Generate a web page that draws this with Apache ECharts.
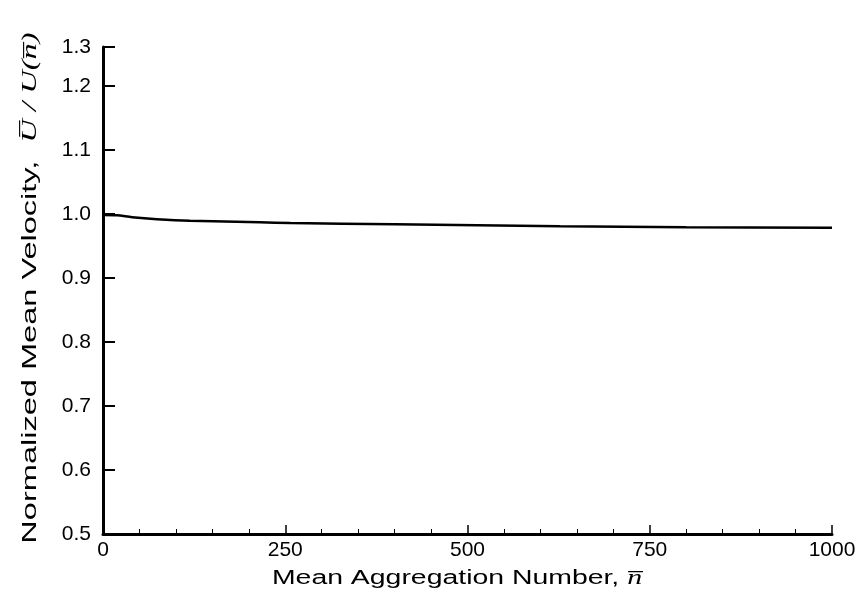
<!DOCTYPE html>
<html><head><meta charset="utf-8">
<script src="https://cdn.jsdelivr.net/npm/echarts@6/dist/echarts.min.js"></script>
<style>html,body{margin:0;padding:0;background:#fff}#c{width:866px;height:600px}</style>
</head><body><div id="c"></div>
<script>
const nValues = [0, 19, 40, 74, 119, 215, 257, 400, 627, 800, 1000];
const uRatio  = [0.9985, 0.998, 0.995, 0.992, 0.9895, 0.987, 0.986, 0.984, 0.981, 0.9795, 0.9785];
const xTicks = [0, 250, 500, 750, 1000];
const yTickLabels = ['0.5','0.6','0.7','0.8','0.9','1.0','1.1','1.2','1.3'];
const xTitle = '{a|Mean Aggregation Number, }{b|n\u0305}';
const yTitle = '{a|Normalized Mean Velocity,  }{b|U\u0305 / U(n\u0305)}';

const chart = echarts.init(document.getElementById('c'));
const font = 'Liberation Sans, Arial, sans-serif';
const serif = 'Liberation Serif, serif';
chart.setOption({
  animation: false,
  backgroundColor: '#fff',
  grid: {left: 103, right: 34, top: 47, bottom: 66, containLabel: false},
  xAxis: {
    type: 'value', min: 0, max: 1000, interval: 250,
    axisLine: {lineStyle: {color: '#000', width: 3}},
    axisTick: {inside: true, length: 9, lineStyle: {color: '#000', width: 1.5}},
    minorTick: {show: true, splitNumber: 5, length: 5, lineStyle: {color: '#000', width: 1}},
    splitLine: {show: false},
    axisLabel: {color: '#000', fontSize: 21, fontFamily: font, margin: 6,
      formatter: v => xTicks.includes(v) ? String(v) : ''}
  },
  yAxis: {
    type: 'value', min: 0.5, max: 1.261, interval: 0.1,
    axisLine: {lineStyle: {color: '#000', width: 3}},
    axisTick: {inside: true, length: 12, lineStyle: {color: '#000', width: 2}},
    splitLine: {show: false},
    axisLabel: {color: '#000', fontSize: 21, fontFamily: font, margin: 12, showMaxLabel: true,
      formatter: v => yTickLabels[Math.min(8, Math.round((v - 0.5) * 10))]}
  },
  graphic: [
    {type: 'text', x: 457, y: 578, scaleX: 1.42, scaleY: 1,
      style: {text: xTitle, align: 'center', verticalAlign: 'middle',
        rich: {
          a: {fontSize: 20, fontFamily: font, fill: '#000'},
          b: {fontSize: 21, fontFamily: serif, fontStyle: 'italic', fill: '#000'}
        }}},
    {type: 'text', x: 30, y: 288, rotation: Math.PI / 2, scaleX: 1.55, scaleY: 1,
      style: {text: yTitle, align: 'center', verticalAlign: 'middle',
        rich: {
          a: {fontSize: 21, fontFamily: font, fill: '#000'},
          b: {fontSize: 21, fontFamily: serif, fontStyle: 'italic', fill: '#000'}
        }}}
  ],
  series: [{
    type: 'line', data: nValues.map((n, i) => [n, uRatio[i]]),
    smooth: 0.3, showSymbol: false,
    lineStyle: {color: '#000', width: 2.5}
  }]
});
</script></body></html>
